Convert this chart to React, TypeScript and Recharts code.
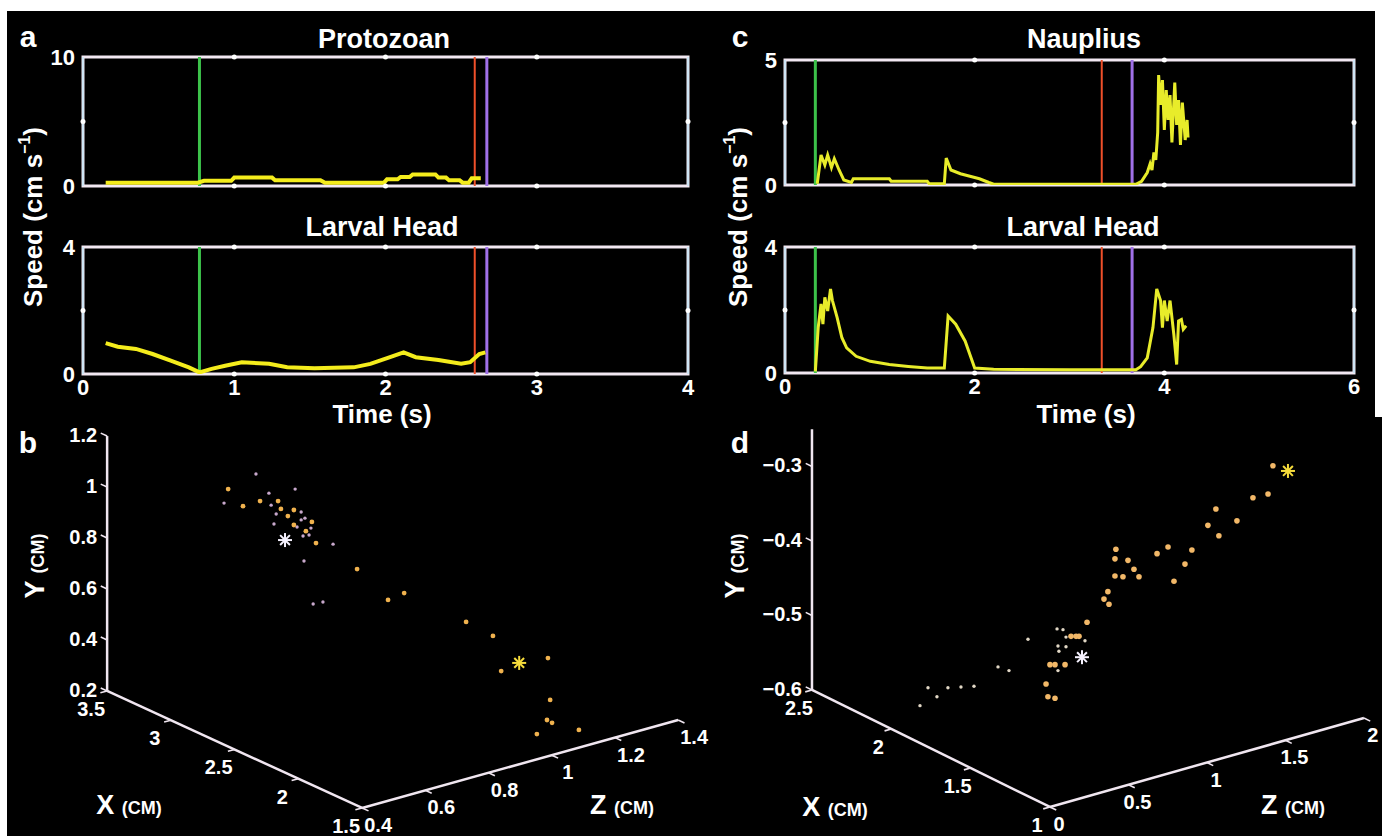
import React from 'react';
import {
  LineChart, Line, XAxis, YAxis, ReferenceArea, ReferenceLine, ReferenceDot,
  ScatterChart, Scatter,
} from 'recharts';

const FONT = '"Liberation Sans", Arial, Helvetica, sans-serif';

// speed traces: [time (s), speed (cm/s)]
const protozoanSpeed: [number, number][] = [
  [0.15, 0.25], [0.76, 0.25], [0.8, 0.4], [0.98, 0.4], [1.0, 0.65], [1.25, 0.65], [1.27, 0.45],
  [1.57, 0.45], [1.6, 0.26], [1.99, 0.26], [2.01, 0.52], [2.08, 0.52], [2.1, 0.7], [2.16, 0.7],
  [2.18, 0.9], [2.33, 0.9], [2.35, 0.65], [2.4, 0.65], [2.42, 0.45], [2.49, 0.45], [2.51, 0.26],
  [2.55, 0.26], [2.57, 0.6], [2.63, 0.6],
];
const larvalHeadA: [number, number][] = [
  [0.15, 0.97], [0.23, 0.86], [0.35, 0.79], [0.46, 0.63], [0.58, 0.42], [0.7, 0.21], [0.77, 0.05],
  [0.85, 0.16], [0.94, 0.26], [1.05, 0.37], [1.23, 0.32], [1.35, 0.21], [1.53, 0.18], [1.79, 0.21],
  [1.9, 0.32], [2.03, 0.53], [2.12, 0.68], [2.2, 0.53], [2.35, 0.44], [2.5, 0.32], [2.56, 0.37],
  [2.62, 0.63], [2.66, 0.68],
];
const naupliusSpeed: [number, number][] = [
  [0.34, 0.05], [0.38, 1.2], [0.42, 0.8], [0.45, 1.2], [0.49, 0.7], [0.52, 1.05], [0.57, 0.6],
  [0.62, 0.2], [0.7, 0.1], [0.72, 0.25], [1.1, 0.25], [1.12, 0.15], [1.5, 0.15], [1.52, 0.05],
  [1.68, 0.05], [1.7, 1.08], [1.75, 0.6], [1.85, 0.45], [1.95, 0.35], [2.05, 0.25], [2.15, 0.1],
  [2.2, 0.03], [3.7, 0.03], [3.76, 0.15], [3.82, 0.5], [3.85, 0.85], [3.87, 0.6], [3.89, 1.3],
  [3.91, 1.0], [3.93, 2.1], [3.94, 4.4], [3.96, 3.2], [3.98, 4.2], [4.0, 2.2], [4.02, 3.8],
  [4.04, 2.6], [4.06, 3.6], [4.08, 1.7], [4.11, 4.1], [4.13, 2.4], [4.15, 3.4], [4.17, 1.6],
  [4.19, 3.3], [4.22, 1.8], [4.24, 2.6], [4.25, 1.9],
];
const larvalHeadC: [number, number][] = [
  [0.32, 0.05], [0.35, 1.44], [0.38, 2.19], [0.4, 1.55], [0.42, 2.4], [0.45, 1.97], [0.48, 2.67],
  [0.5, 2.3], [0.55, 1.76], [0.6, 1.12], [0.65, 0.8], [0.75, 0.53], [0.9, 0.37], [1.1, 0.27],
  [1.3, 0.21], [1.5, 0.16], [1.68, 0.16], [1.72, 1.81], [1.8, 1.55], [1.9, 1.01], [2.0, 0.16],
  [2.2, 0.12], [3.0, 0.1], [3.7, 0.1], [3.75, 0.2], [3.82, 0.48], [3.88, 1.44], [3.92, 2.67],
  [3.96, 2.3], [3.98, 1.44], [4.0, 2.3], [4.03, 1.65], [4.06, 2.3], [4.1, 1.23], [4.13, 0.27],
  [4.15, 1.65], [4.18, 1.7], [4.2, 1.39], [4.23, 1.5],
];

// event markers (s)
const markersA = [0.77, 2.59, 2.67];
const markersC = [0.32, 3.34, 3.66];
const markerColors = ['#3cc24a', '#f0502a', '#a070e8'];

const timeTicksA = [0, 1, 2, 3, 4];
const timeTicksC = [0, 2, 4, 6];

// 3d tracks as [horizontal position, height against the Y scale]
const cloudBOrange: [number, number][] = [
  [-0.03, 0.992], [0.017, 0.925], [0.071, 0.945], [0.128, 0.945], [0.137, 0.914], [0.159, 0.886],
  [0.178, 0.91], [0.235, 0.863], [0.178, 0.851], [0.216, 0.827], [0.248, 0.78], [0.378, 0.678],
  [0.476, 0.557], [0.527, 0.584], [0.723, 0.471], [0.808, 0.416], [0.982, 0.329], [0.834, 0.278],
  [0.989, 0.165], [0.979, 0.086], [0.995, 0.075], [0.947, 0.031], [1.08, 0.047],
];
const cloudBPale: [number, number][] = [
  [-0.043, 0.937], [0.058, 1.051], [0.099, 0.976], [0.106, 0.929], [0.122, 0.894], [0.182, 0.992],
  [0.201, 0.902], [0.213, 0.878], [0.201, 0.871], [0.188, 0.843], [0.232, 0.839], [0.226, 0.812],
  [0.207, 0.808], [0.115, 0.855], [0.302, 0.776], [0.21, 0.71], [0.239, 0.541], [0.27, 0.549],
];
const startB: [number, number] = [0.15, 0.792];
const endB: [number, number] = [0.891, 0.31];

const cloudDOrange: [number, number][] = [
  [-0.025, -0.592], [-0.013, -0.609], [0.032, -0.611], [0.0, -0.566], [0.032, -0.566], [0.096, -0.566],
  [0.134, -0.528], [0.166, -0.528], [0.185, -0.528], [0.236, -0.509], [0.369, -0.468], [0.344, -0.478],
  [0.376, -0.485], [0.42, -0.411], [0.414, -0.424], [0.497, -0.426], [0.535, -0.438], [0.414, -0.447],
  [0.465, -0.448], [0.567, -0.448], [0.682, -0.417], [0.752, -0.408], [0.904, -0.412], [0.86, -0.431],
  [0.79, -0.454], [1.006, -0.379], [1.057, -0.357], [1.076, -0.393], [1.191, -0.373], [1.293, -0.342],
  [1.389, -0.337], [1.42, -0.299],
];
const cloudDPale: [number, number][] = [
  [-0.14, -0.532], [-0.331, -0.569], [-0.261, -0.574], [-0.777, -0.597], [-0.65, -0.597], [-0.567, -0.596],
  [-0.484, -0.595], [-0.72, -0.609], [-0.828, -0.621], [0.051, -0.574], [0.051, -0.541], [0.102, -0.542],
  [0.057, -0.548], [0.045, -0.518], [0.083, -0.519], [0.102, -0.529], [0.223, -0.534],
];
const startD: [number, number] = [0.204, -0.556];
const endD: [number, number] = [1.516, -0.306];

const bTicksX = [1.5, 2, 2.5, 3, 3.5];
const bTicksY = [0.2, 0.4, 0.6, 0.8, 1, 1.2];
const bTicksZ = [0.4, 0.6, 0.8, 1, 1.2, 1.4];
const dTicksX = [1, 1.5, 2, 2.5];
const dTicksY = [-0.6, -0.5, -0.4, -0.3];
const dTicksZ = [0, 0.5, 1, 1.5, 2];

const tickStyle = { fill: '#fff', fontSize: 22, fontWeight: 700, fontFamily: FONT };

const Txt = ({ x, y, size = 27, rotate = false, children }: any) => (
  <div style={{
    position: 'absolute', left: x, top: y, color: '#fff', fontFamily: FONT, fontWeight: 700,
    fontSize: size, lineHeight: 1, whiteSpace: 'nowrap',
    transform: `translate(-50%, -50%)${rotate ? ' rotate(-90deg)' : ''}`,
  }}>{children}</div>
);

const CmLabel = ({ x, y, axis, rotate = false }: any) => (
  <Txt x={x} y={y} rotate={rotate} size={27}>
    {axis} <span style={{ fontSize: 18 }}>(CM)</span>
  </Txt>
);

function SpeedPlot({ left, top, width, height, xMax, yMax, xTicks, data, markers, showX, lineColor, lineWidth }: any) {
  const padL = 44, padT = 12, padR = 12, padB = showX ? 30 : 12;
  const rows = data.map(([t, v]: [number, number]) => ({ t, v }));
  const inner = xTicks.filter((t: number) => t > 0 && t < xMax);
  return (
    <div style={{ position: 'absolute', left: left - padL, top: top - padT }}>
      <LineChart width={width + padL + padR} height={height + padT + padB} data={rows}
        margin={{ top: padT, right: padR, left: 0, bottom: showX ? 0 : padB }}>
        <XAxis type="number" dataKey="t" domain={[0, xMax]} ticks={xTicks} interval={0} hide={!showX}
          height={padB} axisLine={false} tickLine={false} tick={tickStyle} tickSize={4} tickMargin={1}
          allowDataOverflow />
        <YAxis type="number" domain={[0, yMax]} ticks={[0, yMax]} interval={0} width={padL}
          axisLine={false} tickLine={false} tick={tickStyle} allowDataOverflow />
        <ReferenceArea x1={0} x2={xMax} y1={0} y2={yMax} fill="#000" fillOpacity={0}
          stroke="#f2e8f2" strokeWidth={3} />
        <ReferenceLine x={0} stroke="#cfe6f6" strokeWidth={2} />
        <ReferenceLine x={xMax} stroke="#cfe6f6" strokeWidth={2} />
        {inner.map((t: number) => (
          <ReferenceDot key={'t' + t} x={t} y={yMax} r={2.5} fill="#fff" stroke="none" />
        ))}
        {inner.map((t: number) => (
          <ReferenceDot key={'b' + t} x={t} y={0} r={2.5} fill="#fff" stroke="none" />
        ))}
        <ReferenceDot x={0} y={yMax / 2} r={2.5} fill="#fff" stroke="none" />
        <ReferenceDot x={xMax} y={yMax / 2} r={2.5} fill="#fff" stroke="none" />
        {markers.map((m: number, i: number) => (
          <ReferenceLine key={'m' + i} x={m} stroke={markerColors[i]} strokeWidth={i === 1 ? 2 : 3} />
        ))}
        <Line type="linear" dataKey="v" stroke={lineColor} strokeWidth={lineWidth} dot={false}
          isAnimationActive={false} />
      </LineChart>
    </div>
  );
}

type Geo = { o: number[]; h0: number; v0: number; ex: number[]; ey: number[]; ez: number[] };
const project = (g: Geo, x: number, y: number, z: number) => ({
  h: g.h0 + (x - g.o[0]) * g.ex[0] + (y - g.o[1]) * g.ey[0] + (z - g.o[2]) * g.ez[0],
  v: g.v0 + (x - g.o[0]) * g.ex[1] + (y - g.o[1]) * g.ey[1] + (z - g.o[2]) * g.ez[1],
});
const fmt = (v: number) => String(v).replace('-', '\u2212');
const toPts = (arr: [number, number][]) => arr.map(([h, v]) => ({ h, v }));

const star = (color: string) => (p: any) => {
  const { cx, cy } = p;
  const r = 7;
  return (
    <g stroke={color} strokeWidth={2}>
      <line x1={cx - r} y1={cy} x2={cx + r} y2={cy} />
      <line x1={cx} y1={cy - r} x2={cx} y2={cy + r} />
      <line x1={cx - r * 0.7} y1={cy - r * 0.7} x2={cx + r * 0.7} y2={cy + r * 0.7} />
      <line x1={cx - r * 0.7} y1={cy + r * 0.7} x2={cx + r * 0.7} y2={cy - r * 0.7} />
    </g>
  );
};

function Cloud({ left, top, width, height, hDom, vDom, geo, yTop, ticksX, ticksY, ticksZ,
  orange, pale, start, end, orangeColor, paleColor, orangeR, labX, labZ }: any) {
  const kx = width / (hDom[1] - hDom[0]);
  const ky = height / (vDom[1] - vDom[0]);
  const stub = (vec: number[], len = 7) => {
    const px = vec[0] * kx, py = -vec[1] * ky;
    const n = Math.hypot(px, py);
    return [(px / n) * len, (py / n) * len];
  };
  const o = geo.o;
  const xMin = ticksX[0];
  const zMax = ticksZ[ticksZ.length - 1];
  const yPts = ticksY.map((val: number) => ({ ...project(geo, o[0], val, o[2]), label: fmt(val) }));
  const xPts = ticksX.map((val: number) => ({ ...project(geo, val, o[1], o[2]), label: fmt(val) }));
  const zPts = ticksZ.map((val: number) => ({ ...project(geo, xMin, o[1], val), label: fmt(val) }));
  const corner = project(geo, o[0], o[1], o[2]);
  const yEnd = project(geo, o[0], yTop, o[2]);
  const vertex = project(geo, xMin, o[1], o[2]);
  const zEnd = project(geo, xMin, o[1], zMax);
  const seg = (a: any, b: any) => [{ x: a.h, y: a.v }, { x: b.h, y: b.v }];

  const tickShape = (dir: number[], lab: any) => (p: any) => (
    <g>
      <line x1={p.cx} y1={p.cy} x2={p.cx + dir[0]} y2={p.cy + dir[1]} stroke="#f0e6f0" strokeWidth={1.6} />
      <text x={p.cx + lab.dx} y={p.cy + lab.dy} textAnchor={lab.anchor} fill="#fff" fontSize={20}
        fontWeight={700} fontFamily={FONT}>{p.payload.label}</text>
    </g>
  );
  const dot = (color: string, r: number) => (p: any) => <circle cx={p.cx} cy={p.cy} r={r} fill={color} />;
  const axisStroke = '#f0e6f0';

  return (
    <div style={{ position: 'absolute', left, top }}>
      <ScatterChart width={width} height={height} margin={{ top: 0, right: 0, bottom: 0, left: 0 }}>
        <XAxis type="number" dataKey="h" domain={hDom} hide allowDataOverflow />
        <YAxis type="number" dataKey="v" domain={vDom} hide allowDataOverflow />
        <ReferenceLine segment={seg(corner, yEnd)} stroke={axisStroke} strokeWidth={2.5} ifOverflow="visible" />
        <ReferenceLine segment={seg(corner, vertex)} stroke={axisStroke} strokeWidth={2.5} ifOverflow="visible" />
        <ReferenceLine segment={seg(vertex, zEnd)} stroke={axisStroke} strokeWidth={2.5} ifOverflow="visible" />
        <Scatter data={yPts} isAnimationActive={false}
          shape={tickShape(stub(geo.ex), { dx: -10, dy: 6, anchor: 'end' })} />
        <Scatter data={xPts} isAnimationActive={false}
          shape={tickShape(stub([-geo.ez[0], -geo.ez[1]]), { ...labX, anchor: 'middle' })} />
        <Scatter data={zPts} isAnimationActive={false}
          shape={tickShape(stub([-geo.ex[0], -geo.ex[1]]), { ...labZ, anchor: 'middle' })} />
        <Scatter data={toPts(pale)} isAnimationActive={false} shape={dot(paleColor, 1.7)} />
        <Scatter data={toPts(orange)} isAnimationActive={false} shape={dot(orangeColor, orangeR)} />
        <Scatter data={toPts([start])} isAnimationActive={false} shape={star('#f6f2ff')} />
        <Scatter data={toPts([end])} isAnimationActive={false} shape={star('#f6dc3c')} />
      </ScatterChart>
    </div>
  );
}

const geoB: Geo = { o: [3.5, 0.2, 0.4], h0: -0.413, v0: 0.2, ex: [-0.4035, 0.2295], ey: [0, 1], ez: [1, 0.345] };
const geoD: Geo = { o: [2.5, -0.6, 0], h0: -1.516, v0: -0.6, ex: [-1.0106, 0.1047], ey: [0, 1], ez: [1, 0.0597] };

const Speed = ({ x, y }: any) => (
  <Txt x={x} y={y} rotate size={26}>
    Speed (cm s<sup style={{ fontSize: 16, verticalAlign: 'top', position: 'relative', top: -3 }}>{'\u22121'}</sup>)
  </Txt>
);

export default function App() {
  return (
    <div style={{ position: 'absolute', left: 0, top: 0, width: 1382, height: 836, background: '#fff', overflow: 'hidden' }}>
      <style>{'.recharts-surface{overflow:visible !important}'}</style>
      <div style={{ position: 'absolute', left: 7, top: 11, width: 1368, height: 406, background: '#000' }} />
      <div style={{ position: 'absolute', left: 7, top: 417, width: 1375, height: 419, background: '#000' }} />

      <Txt x={28} y={37} size={30}>a</Txt>
      <Txt x={384} y={39}>Protozoan</Txt>
      <Txt x={382} y={227}>Larval Head</Txt>
      <Txt x={382} y={414} size={26}>Time (s)</Txt>
      <Speed x={33} y={217} />
      <SpeedPlot left={83} top={57} width={605} height={129} xMax={4} yMax={10} xTicks={timeTicksA}
        data={protozoanSpeed} markers={markersA} showX={false} lineColor="#f4ec1c" lineWidth={4} />
      <SpeedPlot left={83} top={247} width={605} height={127} xMax={4} yMax={4} xTicks={timeTicksA}
        data={larvalHeadA} markers={markersA} showX lineColor="#f4ec1c" lineWidth={4} />

      <Txt x={740} y={37} size={30}>c</Txt>
      <Txt x={1084} y={39}>Nauplius</Txt>
      <Txt x={1083} y={227}>Larval Head</Txt>
      <Txt x={1086} y={414} size={26}>Time (s)</Txt>
      <Speed x={738} y={217} />
      <SpeedPlot left={785} top={60} width={569} height={125} xMax={6} yMax={5} xTicks={timeTicksC}
        data={naupliusSpeed} markers={markersC} showX={false} lineColor="#e8ec2a" lineWidth={3} />
      <SpeedPlot left={785} top={247} width={569} height={126} xMax={6} yMax={4} xTicks={timeTicksC}
        data={larvalHeadC} markers={markersC} showX lineColor="#e8ec2a" lineWidth={3} />

      <Cloud left={0} top={420} width={720} height={416} hDom={[-0.752, 1.5265]} vDom={[-0.369, 1.263]}
        geo={geoB} yTop={1.2} ticksX={bTicksX} ticksY={bTicksY} ticksZ={bTicksZ}
        orange={cloudBOrange} pale={cloudBPale} start={startB} end={endB} orangeR={2.4}
        orangeColor="#f0b24e" paleColor="#c8a8cc" labX={{ dx: -16, dy: 25 }} labZ={{ dx: 16, dy: 24 }} />
      <Cloud left={690} top={420} width={692} height={416} hDom={[-2.293, 2.115]} vDom={[-0.796, -0.2376]}
        geo={geoD} yTop={-0.25} ticksX={dTicksX} ticksY={dTicksY} ticksZ={dTicksZ}
        orange={cloudDOrange} pale={cloudDPale} start={startD} end={endD} orangeR={2.8}
        orangeColor="#f2b868" paleColor="#e2d8c6" labX={{ dx: -13, dy: 25 }} labZ={{ dx: 9, dy: 24 }} />

      <Txt x={28} y={443} size={30}>b</Txt>
      <CmLabel x={35} y={566} axis="Y" rotate />
      <CmLabel x={129} y={805} axis="X" />
      <CmLabel x={622} y={805} axis="Z" />

      <Txt x={740} y={443} size={30}>d</Txt>
      <CmLabel x={735} y={566} axis="Y" rotate />
      <CmLabel x={835} y={807} axis="X" />
      <CmLabel x={1293} y={805} axis="Z" />
    </div>
  );
}
